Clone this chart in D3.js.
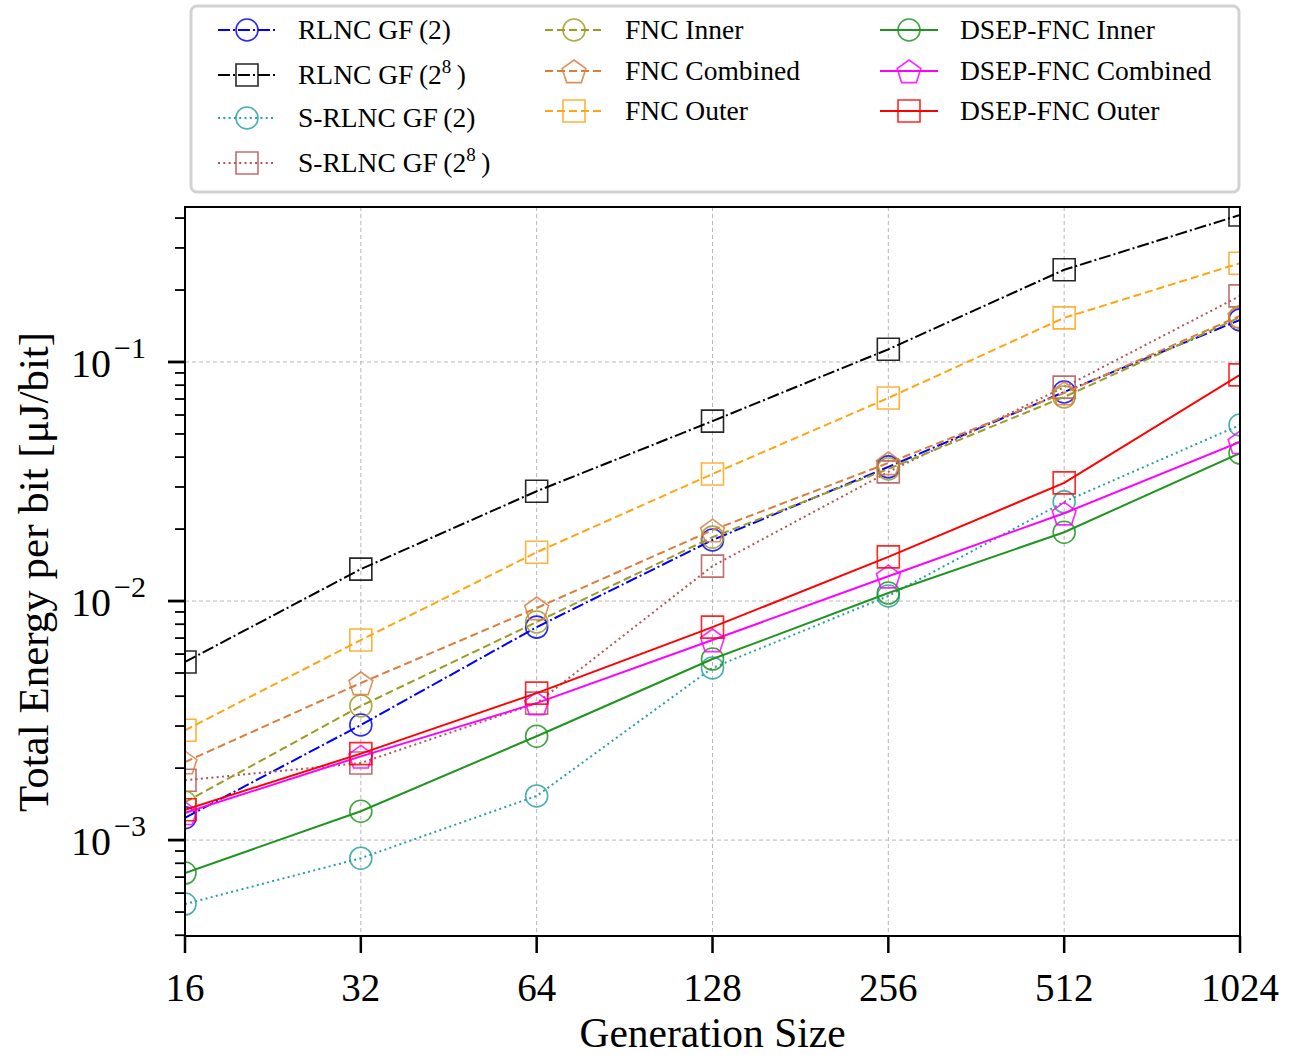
<!DOCTYPE html>
<html>
<head>
<meta charset="utf-8">
<script src="https://cdn.jsdelivr.net/npm/d3@7"></script>
<style>
  html, body { margin: 0; padding: 0; background: #fff; }
  svg { display: block; }
  text { font-family: "Liberation Serif", "DejaVu Serif", serif; fill: #000; }
</style>
</head>
<body>
<svg id="chart" width="1291" height="1055"></svg>
<script>
// ---------- data ----------
const generationSizes = [16, 32, 64, 128, 256, 512, 1024];
const xTickLabels = ["16", "32", "64", "128", "256", "512", "1024"];
const yMajorTicks = [1e-3, 1e-2, 1e-1];
const yTickExponents = ["\u22123", "\u22122", "\u22121"];

const rlncGF2      = [0.00124, 0.00303, 0.00778, 0.0180, 0.0364, 0.0749, 0.150];
const rlncGF256    = [0.00556, 0.0136, 0.0288, 0.0566, 0.113, 0.243, 0.412];
const srlncGF2     = [0.00054, 0.00084, 0.00153, 0.00525, 0.0105, 0.0260, 0.0545];
const srlncGF256   = [0.00178, 0.00210, 0.00374, 0.0140, 0.0347, 0.0785, 0.189];
const fncInner     = [0.00144, 0.00364, 0.00817, 0.0185, 0.0357, 0.0714, 0.154];
const fncCombined  = [0.00212, 0.00454, 0.00935, 0.0198, 0.0378, 0.0742, 0.156];
const fncOuter     = [0.00288, 0.00687, 0.0160, 0.0340, 0.0707, 0.153, 0.259];
const dsepInner    = [0.000728, 0.00132, 0.00272, 0.00572, 0.0108, 0.0194, 0.0416];
const dsepCombined = [0.00130, 0.00224, 0.00374, 0.00687, 0.0127, 0.0233, 0.0463];
const dsepOuter    = [0.00134, 0.00230, 0.00412, 0.00778, 0.0153, 0.0312, 0.0883];

const seriesNames = ["RLNC GF\u2009(2)", "RLNC GF\u2009(2^8)", "S-RLNC GF\u2009(2)", "S-RLNC GF\u2009(2^8)",
  "FNC Inner", "FNC Combined", "FNC Outer",
  "DSEP-FNC Inner", "DSEP-FNC Combined", "DSEP-FNC Outer"];
const seriesValues = [rlncGF2, rlncGF256, srlncGF2, srlncGF256,
  fncInner, fncCombined, fncOuter, dsepInner, dsepCombined, dsepOuter];

// ---------- styles ----------
const styles = [
  {color: "#0000ff", dash: "12,3,2,3", marker: "circle"},
  {color: "#000000", dash: "12,3,2,3", marker: "square"},
  {color: "#2aa1a1", dash: "2,3.3", marker: "circle"},
  {color: "#b55656", dash: "2,3.3", marker: "square"},
  {color: "#9c9c22", dash: "8,4", marker: "circle"},
  {color: "#dc7d3c", dash: "8,4", marker: "pentagon"},
  {color: "#ffa514", dash: "8,4", marker: "square"},
  {color: "#1f951f", dash: null, marker: "circle"},
  {color: "#ff00ff", dash: null, marker: "pentagon"},
  {color: "#ff0000", dash: null, marker: "square"}
];

const svg = d3.select("#chart");
const pLeft = 185, pRight = 1240, pTop = 207, pBottom = 936;

const x = d3.scaleLog().base(2).domain([16, 1024]).range([pLeft, pRight]);
const y = d3.scaleLog().domain([0.000397, 0.445]).range([pBottom, pTop]);

// grid
const grid = svg.append("g");
grid.selectAll("line.gx").data(generationSizes).join("line")
  .attr("x1", d => x(d)).attr("x2", d => x(d)).attr("y1", pTop).attr("y2", pBottom)
  .attr("stroke", "#b8b8b8").attr("stroke-width", 1).attr("stroke-dasharray", "4,3");
grid.selectAll("line.gy").data(yMajorTicks).join("line")
  .attr("x1", pLeft).attr("x2", pRight).attr("y1", d => y(d)).attr("y2", d => y(d))
  .attr("stroke", "#b8b8b8").attr("stroke-width", 1).attr("stroke-dasharray", "4,3");

// clip
svg.append("defs").append("clipPath").attr("id", "clip")
  .append("rect").attr("x", pLeft).attr("y", pTop).attr("width", pRight - pLeft).attr("height", pBottom - pTop);

function markerPath(type, cx, cy) {
  if (type === "circle") {
    const r = 11;
    return `M${cx + r},${cy}A${r},${r} 0 1,1 ${cx - r},${cy}A${r},${r} 0 1,1 ${cx + r},${cy}Z`;
  } else if (type === "square") {
    const h = 11;
    return `M${cx - h},${cy - h}L${cx + h},${cy - h}L${cx + h},${cy + h}L${cx - h},${cy + h}Z`;
  } else {
    const r = 12.5;
    const pts = d3.range(5).map(k => {
      const a = -Math.PI / 2 + k * 2 * Math.PI / 5;
      return [cx + r * Math.cos(a), cy + 1.5 + r * Math.sin(a)];
    });
    return "M" + pts.map(p => p.join(",")).join("L") + "Z";
  }
}

const plot = svg.append("g").attr("clip-path", "url(#clip)");
const line = d3.line().x((d, i) => x(generationSizes[i])).y(d => y(d));

seriesValues.forEach((vals, si) => {
  const st = styles[si];
  const g = plot.append("g");
  g.append("path").datum(vals).attr("d", line)
    .attr("fill", "none").attr("stroke", st.color).attr("stroke-width", 2)
    .attr("stroke-dasharray", st.dash);
  g.selectAll("path.m").data(vals).join("path").attr("class", "m")
    .attr("d", (d, i) => markerPath(st.marker, x(generationSizes[i]), y(d)))
    .attr("fill", "none").attr("stroke", st.color).attr("stroke-width", 1.6)
    .attr("stroke-opacity", 0.85);
});

// frame
svg.append("rect").attr("x", pLeft).attr("y", pTop).attr("width", pRight - pLeft).attr("height", pBottom - pTop)
  .attr("fill", "none").attr("stroke", "#000").attr("stroke-width", 2);

// x ticks
const xAxis = svg.append("g");
xAxis.selectAll("line").data(generationSizes).join("line")
  .attr("x1", d => x(d)).attr("x2", d => x(d)).attr("y1", pBottom).attr("y2", pBottom + 17)
  .attr("stroke", "#000").attr("stroke-width", 2.5);
xAxis.selectAll("text").data(generationSizes).join("text")
  .attr("x", d => x(d)).attr("y", 1001).attr("text-anchor", "middle")
  .attr("font-size", 39).text((d, i) => xTickLabels[i]);

// y ticks
const [ymin, ymax] = y.domain();
const minor = [];
for (let e = -4; e <= 0; e++) {
  for (let m = 2; m <= 9; m++) {
    const v = m * Math.pow(10, e);
    if (v >= ymin && v <= ymax) minor.push(v);
  }
}
const yAxis = svg.append("g");
yAxis.selectAll("line.minor").data(minor).join("line").attr("class", "minor")
  .attr("x1", pLeft - 10).attr("x2", pLeft).attr("y1", d => y(d)).attr("y2", d => y(d))
  .attr("stroke", "#000").attr("stroke-width", 1.8);
yAxis.selectAll("line.major").data(yMajorTicks).join("line").attr("class", "major")
  .attr("x1", pLeft - 17).attr("x2", pLeft).attr("y1", d => y(d)).attr("y2", d => y(d))
  .attr("stroke", "#000").attr("stroke-width", 2.8);
const yl = yAxis.selectAll("text").data(yMajorTicks).join("text")
  .attr("x", 146).attr("y", d => y(d) + 15).attr("text-anchor", "end");
yl.append("tspan").attr("font-size", 40).text("10");
yl.append("tspan").attr("font-size", 30).attr("dx", 3).attr("dy", -19).text((d, i) => yTickExponents[i]);

// axis labels
svg.append("text").attr("x", (pLeft + pRight) / 2).attr("y", 1047).attr("text-anchor", "middle")
  .attr("font-size", 41.5).text("Generation Size");
svg.append("text").attr("transform", `translate(48,572) rotate(-90)`)
  .attr("text-anchor", "middle").attr("font-size", 43).text("Total Energy per bit [\u03bcJ/bit]");

// legend
const legend = svg.append("g");
legend.append("rect").attr("x", 191).attr("y", 6).attr("width", 1048).attr("height", 186)
  .attr("rx", 6).attr("fill", "#fff").attr("stroke", "#d2d2d2").attr("stroke-width", 3);
const legendPos = [
  [218, 30], [218, 75], [218, 118], [218, 163],
  [545, 30], [545, 71], [545, 111],
  [880, 30], [880, 71], [880, 111]
];
seriesNames.forEach((name, si) => {
  const st = styles[si];
  const [lx, ly] = legendPos[si];
  const g = legend.append("g");
  g.append("line").attr("x1", lx).attr("x2", lx + 58).attr("y1", ly).attr("y2", ly)
    .attr("stroke", st.color).attr("stroke-width", 2).attr("stroke-dasharray", st.dash);
  g.append("path").attr("d", markerPath(st.marker, lx + 29, ly))
    .attr("fill", "none").attr("stroke", st.color).attr("stroke-width", 1.6).attr("stroke-opacity", 0.85);
  const t = g.append("text").attr("x", lx + 80).attr("y", ly + 9).attr("font-size", 27.5);
  const parts = name.split("^");
  if (parts.length === 1) {
    t.text(name);
  } else {
    t.append("tspan").text(parts[0]);
    t.append("tspan").attr("font-size", 19).attr("dy", -11).text(parts[1].replace(")", ""));
    t.append("tspan").attr("dy", 11).text("\u2009)");
  }
});
</script>
</body>
</html>
